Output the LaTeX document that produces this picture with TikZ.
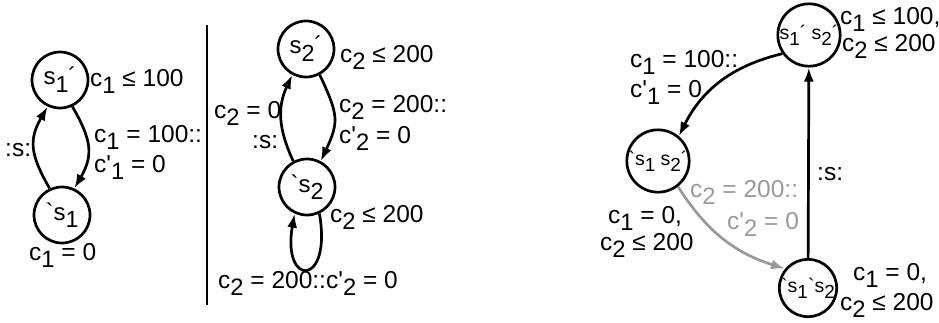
\documentclass[tikz,border=0pt]{standalone}
\usepackage{fontspec}
\setmainfont{Liberation Sans}[Ligatures=TeXOff]
\usetikzlibrary{arrows.meta}
\newcommand\lo[1]{\raisebox{-0.32em}{\scalebox{0.97}{#1}}}
\definecolor{edgegray}{HTML}{999999}
\begin{document}
\begin{tikzpicture}[x=1pt,y=1pt,
  state/.style={circle, draw, line width=2.7pt, minimum size=56pt, inner sep=0pt,
    font=\fontsize{24}{27}\selectfont},
  smallstate/.style={state, font=\fontsize{19.5}{22}\selectfont},
  lbl/.style={anchor=base west, inner sep=0pt, font=\fontsize{24.5}{27}\selectfont},
  arr/.style={line width=2.7pt, -{Latex[length=14pt,width=10pt]}},
  divider/.style={line width=2.7pt}]
\useasboundingbox (0,0) rectangle (939,-322);

% ---- left automaton
\node[state] (A) at (60,-80) {s\lo{1}´};
\node[state] (B) at (62,-215) {`s\lo{1}};
\node[lbl] (la1) at (90,-86) {c\lo{1} ≤ 100};
\node[lbl] (la2) at (5,-156) {:s:};
\node[lbl] (la3) at (94,-142) {c\lo{1} = 100::};
\node[lbl] (la4) at (94,-172) {c'\lo{1} = 0};
\node[lbl] (la5) at (29,-260) {c\lo{1} = 0};
\draw[arr] (B.115) to[out=120,in=-120,looseness=1.2] (A.-115);
\draw[arr] (A.-65) to[out=-60,in=60,looseness=1.2] (B.65);

% ---- divider
\coordinate (d1) at (207,-25);
\coordinate (d2) at (207,-305);
\draw[divider] (d1) -- (d2);

% ---- middle automaton
\node[state] (C) at (306,-49) {s\lo{2}´};
\node[state] (D) at (307,-187) {`s\lo{2}};
\node[lbl] (lb1) at (340,-62) {c\lo{2} ≤ 200};
\node[lbl] (lb2) at (214,-118) {c\lo{2} = 0};
\node[lbl] (lb3) at (252,-148) {:s:};
\node[lbl] (lb4) at (339,-112) {c\lo{2} = 200::};
\node[lbl] (lb5) at (339,-143) {c'\lo{2} = 0};
\node[lbl] (lb6) at (330,-222) {c\lo{2} ≤ 200};
\node[lbl] (lb7) at (218,-288) {c\lo{2} = 200::c'\lo{2} = 0};
\draw[arr] (D.118) to[out=115,in=-115,looseness=1.05] (C.-118);
\draw[arr] (C.-62) to[out=-65,in=65,looseness=1.3] (D.62);
\draw[arr] (D.-65) .. controls +(-80:75pt) and +(-100:75pt) .. (D.-115);

% ---- right automaton
\node[smallstate] (E) at (809,-35) {s\lo{1}´ s\lo{2}´};
\node[smallstate] (F) at (658,-161) {`s\lo{1} s\lo{2}´};
\node[smallstate] (G) at (808,-288) {`s\lo{1}`s\lo{2}};
\node[lbl] (lc1) at (840,-24) {c\lo{1} ≤ 100,};
\node[lbl] (lc2) at (842,-51) {c\lo{2} ≤ 200};
\node[lbl] (lc3) at (630,-67) {c\lo{1} = 100::};
\node[lbl] (lc4) at (630,-97) {c'\lo{1} = 0};
\node[lbl] (lc5) at (817,-180) {:s:};
\node[lbl] (lc6) at (608,-223) {c\lo{1} = 0,};
\node[lbl] (lc7) at (600,-250) {c\lo{2} ≤ 200};
\node[lbl, text=edgegray] (lc8) at (690,-197) {c\lo{2} = 200::};
\node[lbl, text=edgegray] (lc9) at (727,-229) {c'\lo{2} = 0};
\node[lbl] (lc10) at (853,-280) {c\lo{1} = 0,};
\node[lbl] (lc11) at (840,-310) {c\lo{2} ≤ 200};
\draw[arr] (E.-145) to[bend right=25] (F.50);
\draw[arr] (G) -- (E);
\draw[arr, edgegray] (F.-52) to[bend right=20] (G.140);
\end{tikzpicture}
\end{document}
